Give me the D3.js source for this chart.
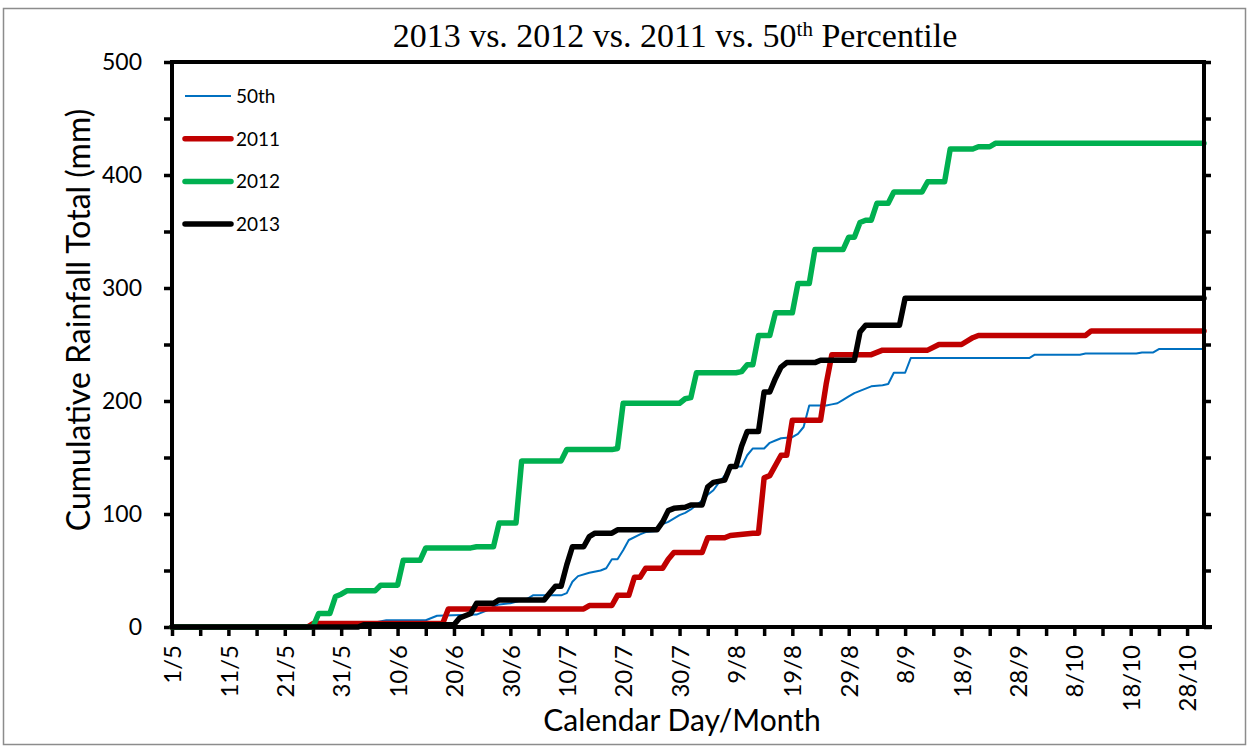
<html>
<head>
<script src="https://d3js.org/d3.v7.min.js"></script>
<style>
body { margin:0; background:#fff; }
#chart { width:1250px; height:747px; }
</style>
</head>
<body>
<div id="chart"></div>
<script>
	// days counted from 1 May, cumulative rainfall in mm
	var p50Days = [0,34,35,36,38,45,46,47,54,55,56,57,58,60,63,64,69,70,71,72,74,76,77,78,79,80,81,83,84,86,87,88,90,91,92,93,94,95,96,97,98,99,100,101,102,103,105,106,107,108,110,111,112,113,116,117,118,119,120,121,122,123,124,126,127,128,130,131,152,153,161,162,171,172,174,175,183];
	var p50Vals = [0,0,2,4,6,6,8,10,11,13,15,18,20,21,25,28,28,30,40,45,48,50,52,60,60,68,77,82,84,85,91,93,99,101,104,108,112,117,121,128,134,140,142,142,152,158,158,163,165,167,168,171,177,196,196,197,198,201,204,207,209,211,213,214,215,225,225,238,238,241,241,242,242,243,243,246,246];

	var y2011Days = [0,24,25,48,49,73,74,78,79,81,82,83,84,87,88,89,94,95,98,99,103,104,105,106,108,109,110,115,116,117,124,126,134,136,140,142,143,162,163,183];
	var y2011Vals = [0,0,3,3,16,16,19,19,28,28,44,44,52,52,60,66,66,79,79,81,83,83,132,134,152,152,183,183,215,241,241,245,245,250,250,256,258,258,262,262];

	var y2012Days = [0,25,26,28,29,30,31,36,37,40,41,44,45,53,54,57,58,61,62,69,70,78,79,80,90,91,92,93,100,101,102,103,104,106,107,110,111,113,114,119,120,121,122,123,124,125,127,128,133,134,137,138,142,143,145,146,183];
	var y2012Vals = [0,0,12,12,27,29,32,32,37,37,59,59,70,70,71,71,92,92,147,147,157,157,158,198,198,202,203,225,225,226,232,232,258,258,278,278,304,304,334,334,345,345,358,360,360,375,375,385,385,394,394,423,423,425,425,428,428];

	var y2013Days = [0,33,34,50,51,52,53,54,57,58,66,67,68,69,70,71,73,74,75,78,79,86,87,88,89,91,92,94,95,96,98,99,100,101,102,104,105,106,107,108,109,114,115,121,122,123,129,130,183];
	var y2013Vals = [0,0,2,2,8,10,12,21,21,24,24,30,36,36,55,71,71,80,83,83,86,86,93,103,105,106,108,108,124,128,130,142,142,160,173,173,208,208,220,230,234,234,236,236,261,267,267,291,291];

	var seriesNames = ["50th", "2011", "2012", "2013"];
	var seriesColors = ["#0070C0", "#C00000", "#00B050", "#000000"];
	var seriesWidths = [2, 5.5, 5.5, 5.5];
	var seriesDays = [p50Days, y2011Days, y2012Days, y2013Days];
	var seriesVals = [p50Vals, y2011Vals, y2012Vals, y2013Vals];

	var xTickDays = [0,10,20,30,40,50,60,70,80,90,100,110,120,130,140,150,160,170,180];
	var xTickLabels = ["1/5","11/5","21/5","31/5","10/6","20/6","30/6","10/7","20/7","30/7","9/8","19/8","29/8","8/9","18/9","28/9","8/10","18/10","28/10"];
	var yTicks = [0,100,200,300,400,500];

	var width = 1250, height = 747;
	var plotL = 172, plotR = 1204, plotT = 62, plotB = 627;

	var svg = d3.select("#chart").append("svg")
		.attr("width", width)
		.attr("height", height);

	// outer frame
	svg.append("rect")
		.attr("x", 3.5).attr("y", 8.5)
		.attr("width", 1242).attr("height", 736)
		.attr("fill", "none")
		.attr("stroke", "#8c8c8c")
		.attr("stroke-width", 1.5);

	var x = d3.scaleLinear().domain([0, 183]).range([plotL, plotR]);
	var y = d3.scaleLinear().domain([0, 500]).range([plotB, plotT]);

	//minor ticks every 5 days / 50 mm
	var xMinor = d3.range(0, 181, 5);
	var yMinor = d3.range(0, 501, 50);

	var font = "Lato, 'Open Sans', sans-serif";

	var xAxis = svg.append("g")
		.attr("transform", "translate(0," + plotB + ")")
		.call(d3.axisBottom(x).tickValues(xMinor).tickSize(9).tickSizeOuter(0)
			.tickFormat(function(d){
				var i = xTickDays.indexOf(d);
				return i < 0 ? "" : xTickLabels[i];
			}));
	xAxis.select(".domain").remove();
	xAxis.selectAll(".tick line").attr("stroke-width", 3.5);
	xAxis.selectAll("text")
		.attr("transform", "rotate(-90)")
		.attr("y", 0)
		.attr("x", -18)
		.attr("dy", "0.36em")
		.attr("text-anchor", "end")
		.style("font", "24px " + font)
		.attr("fill", "#000");

	var yAxis = svg.append("g")
		.attr("transform", "translate(" + plotL + ",0)")
		.call(d3.axisLeft(y).tickValues(yMinor).tickSize(8).tickPadding(22).tickSizeOuter(0)
			.tickFormat(function(d){ return yTicks.indexOf(d) < 0 ? "" : d; }));
	yAxis.select(".domain").remove();
	yAxis.selectAll(".tick line").attr("stroke-width", 3.5);
	yAxis.selectAll("text").style("font", "23px " + font).attr("fill", "#000");

	var yAxisR = svg.append("g")
		.attr("transform", "translate(" + plotR + ",0)")
		.call(d3.axisRight(y).tickValues(yMinor).tickSize(7).tickSizeOuter(0).tickFormat(""));
	yAxisR.select(".domain").remove();
	yAxisR.selectAll(".tick line").attr("stroke-width", 3.5);

	// series lines
	var line = d3.line()
		.x(function(d){ return x(d[0]); })
		.y(function(d){ return y(d[1]); });

	seriesNames.forEach(function(name, i){
		var pts = seriesDays[i].map(function(d, j){ return [d, seriesVals[i][j]]; });
		svg.append("path")
			.datum(pts)
			.attr("d", line)
			.attr("fill", "none")
			.attr("stroke", seriesColors[i])
			.attr("stroke-width", seriesWidths[i])
			.attr("stroke-linejoin", "round")
			.attr("stroke-linecap", "round");
	});

	// plot frame
	svg.append("rect")
		.attr("x", plotL).attr("y", plotT)
		.attr("width", plotR - plotL).attr("height", plotB - plotT)
		.attr("fill", "none")
		.attr("stroke", "#000")
		.attr("stroke-width", 4);
	svg.append("line")
		.attr("x1", plotR).attr("x2", plotR + 8)
		.attr("y1", plotB).attr("y2", plotB)
		.attr("stroke", "#000").attr("stroke-width", 4);

	// legend
	var legend = svg.append("g");
	seriesNames.forEach(function(name, i){
		var ly = 96 + i * 42.7;
		legend.append("line")
			.attr("x1", 185).attr("x2", 231)
			.attr("y1", ly).attr("y2", ly)
			.attr("stroke", seriesColors[i])
			.attr("stroke-width", seriesWidths[i])
			.attr("stroke-linecap", i == 0 ? "butt" : "round");
		legend.append("text")
			.attr("x", 236).attr("y", ly + 7)
			.text(name)
			.style("font", "19px " + font);
	});

	// titles
	var title = svg.append("text")
		.attr("x", 675).attr("y", 47)
		.attr("text-anchor", "middle")
		.style("font", "34px 'Liberation Serif', serif");
	title.append("tspan").text("2013 vs. 2012 vs. 2011 vs. 50");
	title.append("tspan").text("th").attr("dy", -11).style("font-size", "21px");
	title.append("tspan").text(" Percentile").attr("dy", 11);

	svg.append("text")
		.attr("transform", "translate(90,320) rotate(-90)")
		.attr("text-anchor", "middle")
		.text("Cumulative Rainfall Total (mm)")
		.style("font", "32px " + font);

	svg.append("text")
		.attr("x", 682).attr("y", 731)
		.attr("text-anchor", "middle")
		.text("Calendar Day/Month")
		.style("font", "30px " + font);
</script>
</body>
</html>
